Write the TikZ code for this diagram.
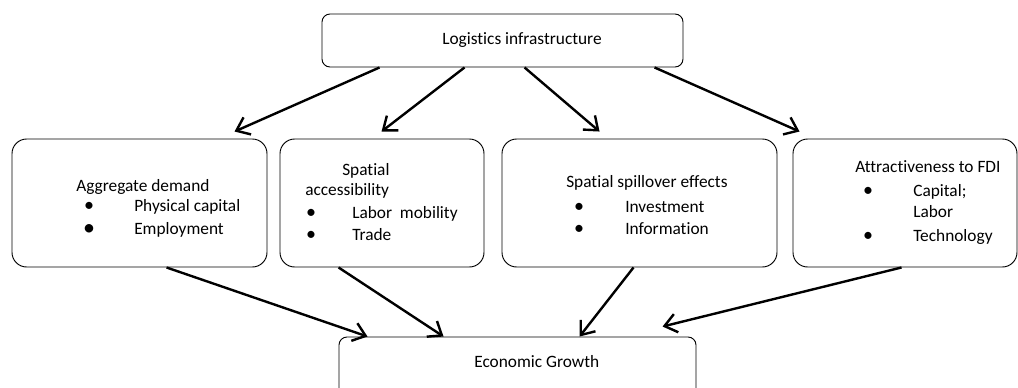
\documentclass[tikz,border=0pt]{standalone}
\usepackage{fontspec}
\setmainfont{Carlito}[Ligatures=NoCommon]
\usepackage{tikz}
\usetikzlibrary{arrows.meta,calc,fit,positioning}

\begin{document}
\begin{tikzpicture}[x=0.75pt,y=-0.75pt,
  box/.style={draw,line width=0.7pt,rounded corners=6pt,inner sep=0pt},
  bigbox/.style={box,rounded corners=11pt},
  txt/.style={anchor=base west,inner sep=0pt,font=\fontsize{13}{15}\selectfont},
  dot/.style={anchor=base,inner sep=0pt,font=\fontsize{15}{17}\selectfont},
  arr/.style={-{Straight Barb[length=9pt,width=14pt]},line width=1.8pt}]
\useasboundingbox (0,0) rectangle (1018,387);

% boxes
\node (infra) [box,fit={(322,14) (683,67)}] {};
\node (demand) [bigbox,fit={(12,139) (267,267)}] {};
\node (access) [bigbox,fit={(280,139) (484,267)}] {};
\node (spill) [bigbox,fit={(502,139) (777,267)}] {};
\node (fdi) [bigbox,fit={(793,139) (1017,267)}] {};
\node (growth) [box,fit={(339,337) (696,430)}] {};

% texts
\node (infralbl) at (442,44) [txt] {Logistics infrastructure};

\node (demandlbl) at (76,191) [txt] {Aggregate demand};
\node (d1) at (89,211) [dot] {\textbullet};
\node (d2) at (89,235) [dot,font=\fontsize{18}{20}\selectfont] {\textbullet};
\node (demandA) at (134,211) [txt] {Physical capital};
\node (demandB) at (134,234) [txt] {Employment};

\node (accesslblA) at (342,175) [txt] {Spatial};
\node (accesslblB) at (305,195) [txt] {accessibility};
\node (a1) at (311,218) [dot] {\textbullet};
\node (a2) at (311,240) [dot] {\textbullet};
\node (accessA) at (352,218) [txt] {Labor\ \ mobility};
\node (accessB) at (352,240) [txt] {Trade};

\node (spilllbl) at (566,187) [txt] {Spatial spillover effects};
\node (s1) at (579,212) [dot] {\textbullet};
\node (s2) at (579,234) [dot] {\textbullet};
\node (spillA) at (625,212) [txt] {Investment};
\node (spillB) at (625,234) [txt] {Information};

\node (fdilbl) at (855,172) [txt] {Attractiveness to FDI};
\node (f1) at (868,196) [dot] {\textbullet};
\node (f2) at (868,241) [dot] {\textbullet};
\node (fdiA) at (913,196) [txt] {Capital;};
\node (fdiB) at (913,217) [txt] {Labor};
\node (fdiC) at (913,241) [txt] {Technology};

\node (growthlbl) at (474,367) [txt] {Economic Growth};

% arrows down from infrastructure
\draw[arr] ($(infra.south west)+(58,0)$) -- ($(demand.north west)+(223,-7)$);
\draw[arr] ($(infra.south west)+(143,0)$) -- ($(access.north west)+(102,-7)$);
\draw[arr] ($(infra.south west)+(203,0)$) -- ($(spill.north west)+(98,-7)$);
\draw[arr] ($(infra.south west)+(333,0)$) -- ($(fdi.north west)+(7,-7)$);

% arrows into growth
\draw[arr] ($(demand.south west)+(155,0)$) -- ($(growth.north west)+(29,0)$);
\draw[arr] ($(access.south west)+(59,0)$) -- ($(growth.north west)+(105,0)$);
\draw[arr] ($(spill.south west)+(132,0)$) -- ($(growth.north west)+(241,0)$);
\draw[arr] ($(fdi.south west)+(109,0)$) -- ($(growth.north west)+(324,-10)$);
\end{tikzpicture}
\end{document}
